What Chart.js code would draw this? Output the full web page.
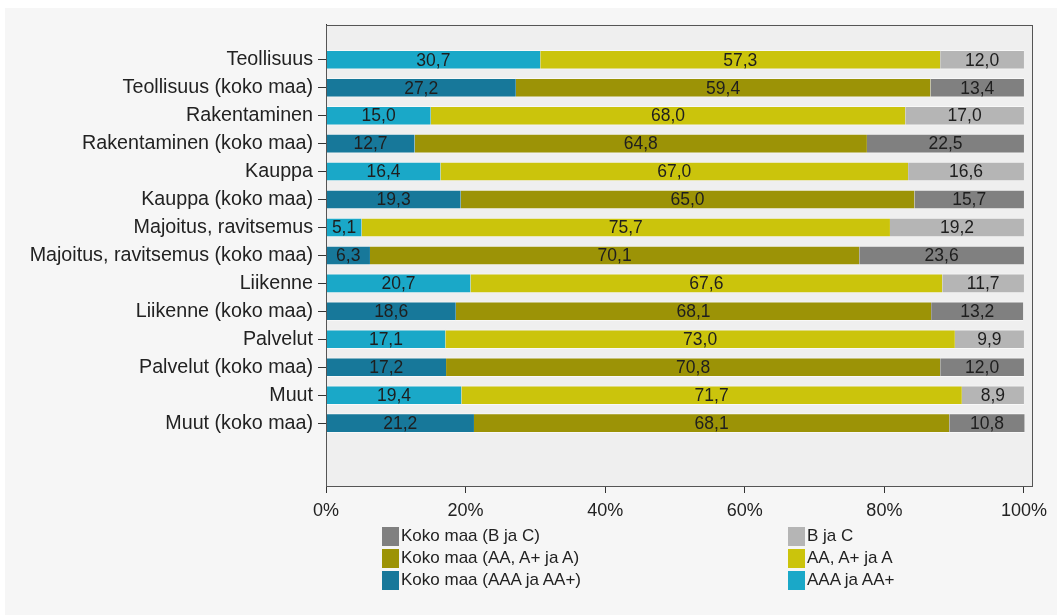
<!DOCTYPE html>
<html>
<head>
<meta charset="utf-8">
<script src="https://cdn.jsdelivr.net/npm/chart.js@4"></script>
<style>
  html, body { margin: 0; padding: 0; background: #ffffff; width: 1057px; height: 615px; overflow: hidden; }
  #wrap { position: absolute; left: 5px; top: 8px; width: 1052px; height: 607px; background: #f6f6f6; }
  #c { position: absolute; left: 0; top: 0; }
  #legend { position: absolute; left: 0; top: 0; font-family: "Liberation Sans", Arial, sans-serif; font-size: 17px; color: #222; }
  .li { position: absolute; display: flex; align-items: center; white-space: nowrap; }
  .sw { width: 17px; height: 19px; margin-right: 2px; }
</style>
</head>
<body>
<div id="wrap">
  <canvas id="c" width="1052" height="607" style="width:1052px;height:607px"></canvas>
  <div id="legend"></div>
</div>
<script>
const categories = [
  "Teollisuus", "Teollisuus (koko maa)",
  "Rakentaminen", "Rakentaminen (koko maa)",
  "Kauppa", "Kauppa (koko maa)",
  "Majoitus, ravitsemus", "Majoitus, ravitsemus (koko maa)",
  "Liikenne", "Liikenne (koko maa)",
  "Palvelut", "Palvelut (koko maa)",
  "Muut", "Muut (koko maa)"
];
// regional rows (even indices) and national rows (odd indices)
const regionAAA = [30.7, 15.0, 16.4, 5.1, 20.7, 17.1, 19.4];
const regionAA  = [57.3, 68.0, 67.0, 75.7, 67.6, 73.0, 71.7];
const regionBC  = [12.0, 17.0, 16.6, 19.2, 11.7, 9.9, 8.9];
const nationAAA = [27.2, 12.7, 19.3, 6.3, 18.6, 17.2, 21.2];
const nationAA  = [59.4, 64.8, 65.0, 70.1, 68.1, 70.8, 68.1];
const nationBC  = [13.4, 22.5, 15.7, 23.6, 13.2, 12.0, 10.8];
const xTicks = [0, 20, 40, 60, 80, 100];

const FONT = '"Liberation Sans", Arial, sans-serif';

function rows(values, offset) {
  return values.map((v, i) => ({ x: v, y: i * 2 + offset }));
}

const datasets = [
  { label: "AAA ja AA+", data: rows(regionAAA, 0), backgroundColor: "#1aa8c8" },
  { label: "AA, A+ ja A", data: rows(regionAA, 0), backgroundColor: "#cbc40c" },
  { label: "B ja C", data: rows(regionBC, 0), backgroundColor: "#b5b5b5" },
  { label: "Koko maa (AAA ja AA+)", data: rows(nationAAA, 1), backgroundColor: "#17789a" },
  { label: "Koko maa (AA, A+ ja A)", data: rows(nationAA, 1), backgroundColor: "#9c9306" },
  { label: "Koko maa (B ja C)", data: rows(nationBC, 1), backgroundColor: "#808080" }
];
datasets.forEach(d => {
  d.barPercentage = 0.7;
  d.categoryPercentage = 1;
  d.borderWidth = { top: 1, bottom: 1, left: 0, right: 0 };
  d.borderColor = "rgba(255,255,255,0.55)";
  d.borderSkipped = false;
});

const framePlugin = {
  id: "frame",
  beforeDraw(chart) {
    const a = chart.chartArea, ctx = chart.ctx;
    ctx.save();
    ctx.fillStyle = "#efefef";
    ctx.fillRect(a.left, a.top, a.right - a.left, a.bottom - a.top);
    ctx.restore();
  },
  afterDraw(chart) {
    const a = chart.chartArea, ctx = chart.ctx;
    ctx.save();
    ctx.strokeStyle = "#555";
    ctx.lineWidth = 1;
    ctx.strokeRect(Math.round(a.left) + 0.5, Math.round(a.top) + 0.5, Math.round(a.right - a.left), Math.round(a.bottom - a.top));
    ctx.restore();
  }
};

const labelPlugin = {
  id: "barLabels",
  afterDatasetsDraw(chart) {
    const ctx = chart.ctx;
    ctx.save();
    ctx.font = "17.5px " + FONT;
    ctx.fillStyle = "#1e1e1e";
    ctx.textAlign = "center";
    ctx.textBaseline = "middle";
    chart.data.datasets.forEach((ds, di) => {
      const meta = chart.getDatasetMeta(di);
      meta.data.forEach((el, i) => {
        const p = el.getProps(["x", "y", "base"], true);
        const v = ds.data[i].x;
        ctx.fillText(v.toFixed(1).replace(".", ","), (p.x + p.base) / 2, p.y + 1);
      });
    });
    ctx.restore();
  }
};

const chart = new Chart(document.getElementById("c"), {
  type: "bar",
  data: { datasets },
  options: {
    indexAxis: "y",
    responsive: false,
    animation: false,
    devicePixelRatio: 1,
    layout: { padding: { top: 16, right: 25, left: 0, bottom: 89 } },
    plugins: { legend: { display: false }, tooltip: { enabled: false } },
    scales: {
      x: {
        type: "linear",
        stacked: true,
        min: 0,
        max: 101.15,
        offset: false,
        afterBuildTicks(scale) { scale.ticks = xTicks.map(v => ({ value: v })); },
        afterFit(scale) { scale.height = 40; },
        grid: { drawOnChartArea: false, offset: false, tickLength: 7, color: "#333" },
        border: { display: true, color: "#333" },
        ticks: { callback: v => v + "%", font: { family: FONT, size: 18 }, color: "#222", padding: 7, maxRotation: 0 }
      },
      y: {
        type: "linear",
        stacked: true,
        reverse: true,
        offset: false,
        min: -1.25,
        max: 15.25,
        afterBuildTicks(scale) { scale.ticks = categories.map((c, i) => ({ value: i })); },
        afterFit(scale) { scale.width = 321; },
        grid: { drawOnChartArea: false, offset: false, tickLength: 8, color: "#333" },
        border: { display: true, color: "#333" },
        ticks: { callback: v => categories[v], font: { family: FONT, size: 19.7 }, color: "#222", padding: 5, autoSkip: false }
      }
    }
  },
  plugins: [framePlugin, labelPlugin]
});

// legend: two columns built from the datasets
const legendOrder = [
  ["Koko maa (B ja C)", 0, 0], ["Koko maa (AA, A+ ja A)", 0, 1], ["Koko maa (AAA ja AA+)", 0, 2],
  ["B ja C", 1, 0], ["AA, A+ ja A", 1, 1], ["AAA ja AA+", 1, 2]
];
const colX = [377, 783];
const rowY = [518, 540, 562];
const leg = document.getElementById("legend");
legendOrder.forEach(([label, col, row]) => {
  const ds = chart.data.datasets.find(d => d.label === label);
  const item = document.createElement("div");
  item.className = "li";
  item.style.left = colX[col] + "px";
  item.style.top = rowY[row] + "px";
  const sw = document.createElement("div");
  sw.className = "sw";
  sw.style.background = ds.backgroundColor;
  const tx = document.createElement("span");
  tx.textContent = label;
  item.appendChild(sw);
  item.appendChild(tx);
  leg.appendChild(item);
});
</script>
</body>
</html>
